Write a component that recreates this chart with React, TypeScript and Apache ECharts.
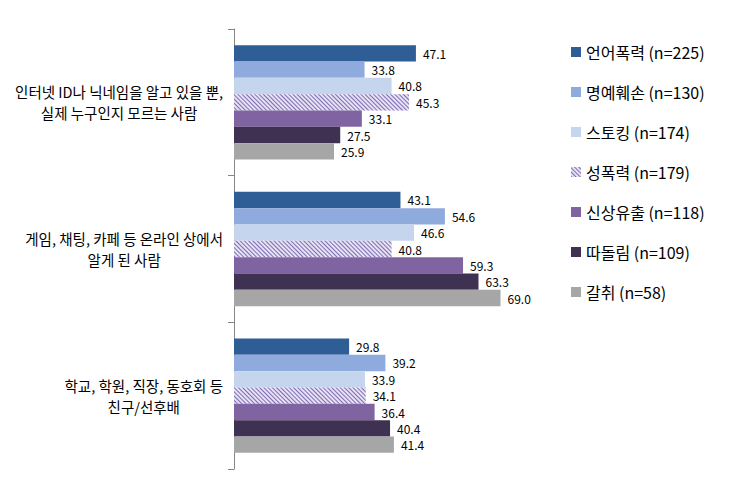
import React, { useEffect, useRef } from "react";
import * as echarts from "echarts";

const categories = [
  ["인터넷 ID나 닉네임을 알고 있을 뿐,", "실제 누구인지 모르는 사람"],
  ["게임, 채팅, 카페 등 온라인 상에서", "알게 된 사람"],
  ["학교, 학원, 직장, 동호회 등", "친구/선후배"],
];

const seriesNames = [
  "언어폭력 (n=225)",
  "명예훼손 (n=130)",
  "스토킹 (n=174)",
  "성폭력 (n=179)",
  "신상유출 (n=118)",
  "따돌림 (n=109)",
  "갈취 (n=58)",
];

const verbal = [47.1, 43.1, 29.8];
const defamation = [33.8, 54.6, 39.2];
const stalking = [40.8, 46.6, 33.9];
const sexual = [45.3, 40.8, 34.1];
const privacy = [33.1, 59.3, 36.4];
const bullying = [27.5, 63.3, 40.4];
const extortion = [25.9, 69.0, 41.4];

const seriesValues = [verbal, defamation, stalking, sexual, privacy, bullying, extortion];
const colors = ["#2F5E97", "#8FAADC", "#C6D5EE", "#E6E1F3", "#8064A2", "#3F3152", "#A6A6A6"];

const FONT = "'Noto Sans CJK KR', 'Noto Sans', sans-serif";

export default function App() {
  const ref = useRef<HTMLDivElement>(null);
  useEffect(() => {
    if (!ref.current) return;
    const chart = echarts.init(ref.current, null, { renderer: "svg" });
    chart.setOption({
      animation: false,
      backgroundColor: "#ffffff",
      textStyle: { fontFamily: FONT },
      grid: { left: 234, top: 29, width: 309, height: 440, containLabel: false },
      legend: {
        orient: "vertical",
        left: 566,
        top: 39,
        itemWidth: 10,
        itemHeight: 10,
        itemGap: 24,
        icon: "rect",
        data: seriesNames,
        textStyle: { fontSize: 16, color: "#000", fontFamily: FONT, lineHeight: 16 },
      },
      xAxis: {
        type: "value",
        min: 0,
        max: 80,
        show: false,
        splitLine: { show: false },
      },
      yAxis: {
        type: "category",
        inverse: true,
        data: categories.map((c) => c.join("\n")),
        axisLine: { show: true, lineStyle: { color: "#868686", width: 1 } },
        axisTick: { show: true, length: 6, lineStyle: { color: "#868686" } },
        axisLabel: {
          margin: 11,
          align: "right",
          fontSize: 14.5,
          color: "#000",
          fontFamily: FONT,
          lineHeight: 21,
          formatter: (v: string) =>
            v
              .split("\n")
              .map((l) => `{c|${l}}`)
              .join("\n"),
          rich: {
            c: { align: "center", fontSize: 14.5, lineHeight: 21, color: "#000", fontFamily: FONT },
          },
        },
      },
      series: seriesNames.map((name, i) => ({
        name,
        type: "bar",
        data: seriesValues[i],
        barGap: "0%",
        barCategoryGap: "22%",
        itemStyle:
          i === 3
            ? {
                color: colors[i],
                decal: {
                  symbol: "rect",
                  dashArrayX: [1, 0],
                  dashArrayY: [1, 1.5],
                  rotation: Math.PI / 4,
                  color: "#7E6DB3",
                },
              }
            : { color: colors[i] },
        label: {
          show: true,
          position: "right",
          distance: 7,
          fontSize: 12,
          color: "#000",
          fontFamily: FONT,
          formatter: (p: any) => Number(p.value).toFixed(1),
        },
      })),
    });
    return () => chart.dispose();
  }, []);
  return <div ref={ref} style={{ width: 736, height: 499, position: "absolute", left: 0, top: 0 }} />;
}
